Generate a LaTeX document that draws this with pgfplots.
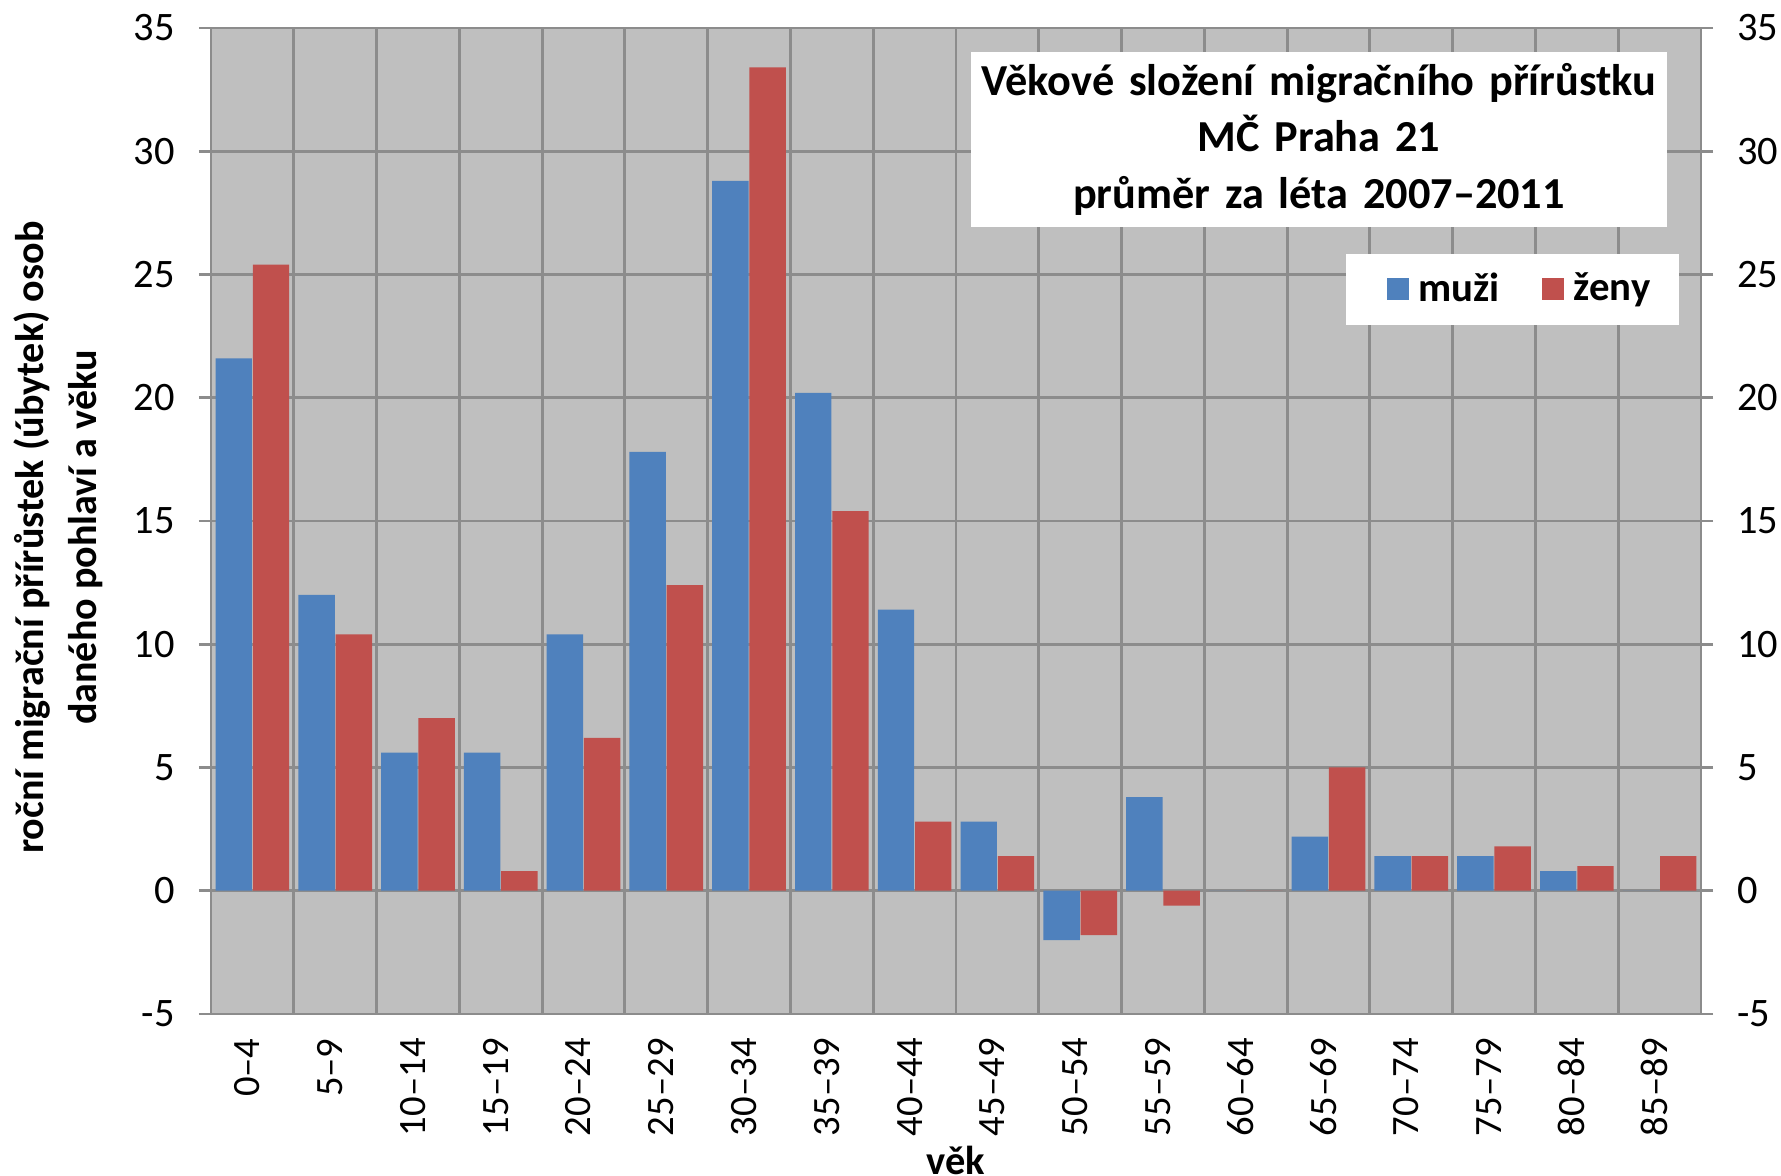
\documentclass[border=0pt]{standalone}
\usepackage{fontspec}
\setmainfont{Carlito}
\usepackage{pgfplots}
\pgfplotsset{compat=1.18}
\definecolor{muzi}{HTML}{4F81BD}
\definecolor{zeny}{HTML}{C0504D}
\definecolor{bg}{HTML}{BFBFBF}
\definecolor{gridc}{HTML}{8C8C8C}
\begin{document}
\begin{tikzpicture}
\useasboundingbox (-2.11cm,-1.62cm) rectangle (15.70cm,10.14cm);
\begin{axis}[
  at={(0,0)}, anchor=south west,
  scale only axis, width=14.90cm, height=9.86cm,
  xmin=-0.5, xmax=17.5, ymin=-5, ymax=35,
  axis background/.style={fill=bg},
  axis line style={gridc, line width=0.8pt},
  grid style={gridc, line width=0.8pt},
  ytick={-5,0,...,35},
  yticklabels={-5,0,5,10,15,20,25,30,35},
  ymajorgrids,
  ytick pos=left,
  tick align=outside,
  major tick length=0.12cm,
  ytick style={gridc, line width=0.8pt},
  xtick={0,...,17},
  xticklabels={0–4,5–9,10–14,15–19,20–24,25–29,30–34,35–39,40–44,45–49,50–54,55–59,60–64,65–69,70–74,75–79,80–84,85–89},
  minor xtick={-0.5,0.5,...,17.5},
  xminorgrids,
  xtick style={draw=none},
  minor tick length=0pt,
  xtick pos=left,
  xticklabel style={rotate=90, anchor=east, font=\fontsize{11}{13}\selectfont, yshift=0.05cm},
  yticklabel style={font=\fontsize{11.5}{13}\selectfont, xshift=-0.12cm},
  xlabel={věk},
  xlabel style={at={(axis description cs:0.5,0)}, anchor=center, yshift=-1.46cm, font=\bfseries\fontsize{11.5}{13}\selectfont},
  ylabel={roční migrační přírůstek (úbytek) osob\\daného pohlaví a věku},
  ylabel style={at={([xshift=-1.525cm]axis description cs:0,0.483)}, anchor=center, align=center, font=\bfseries\fontsize{11.4}{15}\selectfont},
  title={Věkové složení migračního přírůstku\\MČ Praha 21\\průměr za léta 2007–2011},
  title style={at={(axis description cs:0.7436,0.887)}, anchor=center, yshift=-6pt, fill=white, align=center, text width=6.96cm, inner xsep=0pt, minimum height=1.75cm, font=\bfseries\fontsize{12.6}{16}\selectfont},
  legend columns=2,
  legend style={at={(axis description cs:0.8735,0.7348)}, anchor=center, draw=none, fill=white, font=\bfseries\fontsize{11.6}{13}\selectfont, inner xsep=0.22cm, inner ysep=0.12cm, /tikz/every odd column/.append style={column sep=0.03cm}, /tikz/every even column/.append style={column sep=0.16cm}},
  legend image code/.code={\path[draw=none, fill=none] (-0.19cm,0) rectangle (0cm,0.01cm); \fill[#1, draw=none] (0cm,-0.11cm) rectangle (0.22cm,0.11cm);},
]
\addplot[ybar, bar width=0.44, bar shift=-0.225, fill=muzi, draw=none] coordinates {
(0,21.6) (1,12.0) (2,5.6) (3,5.6) (4,10.4) (5,17.8) (6,28.8) (7,20.2) (8,11.4) (9,2.8) (10,-2.0) (11,3.8) (12,0) (13,2.2) (14,1.4) (15,1.4) (16,0.8) (17,0)};
\addlegendentry{muži}
\addplot[ybar, bar width=0.44, bar shift=0.225, fill=zeny, draw=none] coordinates {
(0,25.4) (1,10.4) (2,7.0) (3,0.8) (4,6.2) (5,12.4) (6,33.4) (7,15.4) (8,2.8) (9,1.4) (10,-1.8) (11,-0.6) (12,0) (13,5.0) (14,1.4) (15,1.8) (16,1.0) (17,1.4)};
\addlegendentry{ženy}
\end{axis}
\begin{axis}[
  at={(0,0)}, anchor=south west,
  scale only axis, width=14.90cm, height=9.86cm,
  xmin=-0.5, xmax=17.5, ymin=-5, ymax=35,
  axis x line=none,
  axis y line*=right,
  axis line style={gridc, line width=0.8pt},
  ytick={-5,0,...,35},
  yticklabels={-5,0,5,10,15,20,25,30,35},
  tick align=outside,
  major tick length=0.12cm,
  ytick style={gridc, line width=0.8pt},
  yticklabel style={font=\fontsize{11.5}{13}\selectfont, xshift=0.12cm},
]
\end{axis}
\end{tikzpicture}
\end{document}
